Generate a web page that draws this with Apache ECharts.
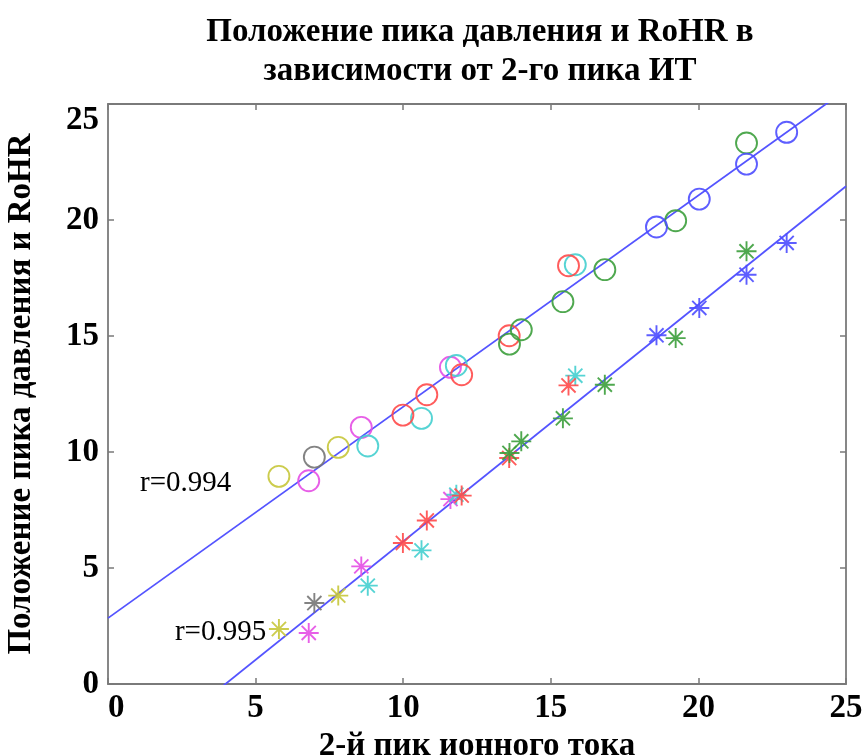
<!DOCTYPE html>
<html>
<head>
<meta charset="utf-8">
<script src="https://cdn.jsdelivr.net/npm/echarts@6/dist/echarts.min.js"></script>
<style>
  html, body { margin: 0; padding: 0; background: #fff; }
  #chart { width: 865px; height: 756px; }
</style>
</head>
<body>
<div id="chart"></div>
<script>
// Measurements grouped by run colour: shared x (2nd ion-current peak),
// circles = pressure peak position, asterisks = RoHR peak position.
const yellowX = [5.79, 7.80];
const yellowP = [8.95, 10.20];
const yellowR = [2.37, 3.81];

const magentaX = [6.80, 8.58, 11.60];
const magentaP = [8.76, 11.06, 13.65];
const magentaR = [2.20, 5.07, 7.97];

const grayX = [6.99];
const grayP = [9.78];
const grayR = [3.49];

const cyanX = [8.80, 10.62, 11.80, 15.83];
const cyanP = [10.26, 11.45, 13.73, 18.07];
const cyanR = [4.24, 5.76, 8.16, 13.29];

const redX = [9.99, 10.80, 11.98, 13.59, 15.60];
const redP = [11.59, 12.47, 13.33, 15.01, 18.03];
const redR = [6.08, 7.05, 8.12, 9.74, 12.87];

const greenX = [13.60, 14.00, 15.41, 16.83, 19.23, 21.63];
const greenP = [14.65, 15.27, 16.48, 17.86, 19.97, 23.32];
const greenR = [9.96, 10.46, 11.45, 12.90, 14.91, 18.65];

const blueX = [18.58, 20.03, 21.63, 22.99];
const blueP = [19.70, 20.90, 22.41, 23.78];
const blueR = [15.03, 16.21, 17.64, 19.01];

// Linear fits: [intercept, slope]
const fitPressure = [2.84, 0.911];
const fitRohr = [-4.06, 1.0205];

// Correlation annotations: [x, y, text]
const corrLabels = [
  [1.07, 8.63, 'r=0.994'],
  [2.25, 2.21, 'r=0.995']
];

const xTicks = [0, 5, 10, 15, 20, 25];
const yTicks = [0, 5, 10, 15, 20, 25];

const groups = [
  { x: yellowX, p: yellowP, r: yellowR, color: '#c6c63a' },
  { x: magentaX, p: magentaP, r: magentaR, color: '#e44ee4' },
  { x: grayX, p: grayP, r: grayR, color: '#767676' },
  { x: cyanX, p: cyanP, r: cyanR, color: '#44cfcf' },
  { x: redX, p: redP, r: redR, color: '#ff4a4a' },
  { x: greenX, p: greenP, r: greenR, color: '#3c9e3c' },
  { x: blueX, p: blueP, r: blueR, color: '#4c4cff' }
];

const serif = '"Liberation Serif", "DejaVu Serif", serif';
const asterisk = 'path://M0,-10L0,10M-10,0L10,0M-7.07,-7.07L7.07,7.07M-7.07,7.07L7.07,-7.07';

const xRange = [xTicks[0], xTicks[xTicks.length - 1]];
const fitLine = (f) => xRange.map(x => [x, f[0] + f[1] * x]);

const series = [];
series.push({
  type: 'line', data: fitLine(fitPressure), symbol: 'none', clip: true,
  lineStyle: { color: '#5454ff', width: 1.8 }, z: 1, silent: true
});
series.push({
  type: 'line', data: fitLine(fitRohr), symbol: 'none', clip: true,
  lineStyle: { color: '#5454ff', width: 1.8 }, z: 1, silent: true
});

groups.forEach(g => {
  series.push({
    type: 'scatter',
    data: g.x.map((x, i) => [x, g.p[i]]),
    symbol: 'circle', symbolSize: 21,
    itemStyle: { color: 'rgba(0,0,0,0)', borderColor: g.color, borderWidth: 1.9, opacity: 0.9 },
    z: 2
  });
  series.push({
    type: 'scatter',
    data: g.x.map((x, i) => [x, g.r[i]]),
    symbol: asterisk, symbolSize: 20,
    itemStyle: { color: 'none', borderColor: g.color, borderWidth: 1.9, opacity: 0.9 },
    z: 2
  });
});

series.push({
  type: 'scatter',
  data: corrLabels.map(c => ({ value: [c[0], c[1]], name: c[2] })),
  symbol: 'circle', symbolSize: 1,
  itemStyle: { color: 'rgba(0,0,0,0)' },
  label: {
    show: true, position: 'right', distance: 0,
    formatter: p => p.name,
    fontFamily: serif, fontSize: 29, color: '#000', opacity: 1
  },
  silent: true, z: 3
});

const axisCommon = {
  type: 'value',
  interval: 5,
  axisLine: { show: true, onZero: false, lineStyle: { color: '#7a7a7a', width: 1.8 } },
  axisTick: { show: true, inside: true, length: 6, lineStyle: { color: '#7a7a7a', width: 1.5 } },
  splitLine: { show: false }
};

const option = {
  animation: false,
  backgroundColor: '#ffffff',
  title: {
    text: 'Положение пика давления и RoHR в\nзависимости от 2-го пика ИТ',
    left: 475, top: 8, textAlign: 'center',
    textStyle: { fontFamily: serif, fontWeight: 'bold', fontSize: 33, lineHeight: 39, color: '#000' }
  },
  grid: { left: 108, top: 104, width: 738, height: 580, show: false, outerBoundsMode: 'none', containLabel: false },
  xAxis: [
    Object.assign({}, axisCommon, {
      min: xRange[0], max: xRange[1], position: 'bottom',
      name: '2-й пик ионного тока', nameLocation: 'middle', nameGap: 42,
      nameTextStyle: { fontFamily: serif, fontWeight: 'bold', fontSize: 33, color: '#000' },
      axisLabel: { margin: 8, fontFamily: serif, fontWeight: 'bold', fontSize: 33, color: '#000',
        alignMinLabel: 'left',
        formatter: v => xTicks.includes(v) ? String(v) : '' }
    }),
    Object.assign({}, axisCommon, {
      min: xRange[0], max: xRange[1], position: 'top', axisLabel: { show: false }
    })
  ],
  yAxis: [
    Object.assign({}, axisCommon, {
      min: yTicks[0], max: yTicks[yTicks.length - 1], position: 'left',
      name: 'Положение пика давления и RoHR', nameLocation: 'middle', nameGap: 70, nameRotate: 90,
      nameTextStyle: { fontFamily: serif, fontWeight: 'bold', fontSize: 33, color: '#000' },
      axisLabel: { margin: 9, fontFamily: serif, fontWeight: 'bold', fontSize: 33, color: '#000',
        verticalAlignMaxLabel: 'top',
        formatter: v => yTicks.includes(v) ? String(v) : '' }
    }),
    Object.assign({}, axisCommon, {
      min: yTicks[0], max: yTicks[yTicks.length - 1], position: 'right', axisLabel: { show: false }
    })
  ],
  series: series
};

const chart = echarts.init(document.getElementById('chart'), null, { renderer: 'canvas' });
chart.setOption(option);
</script>
</body>
</html>
